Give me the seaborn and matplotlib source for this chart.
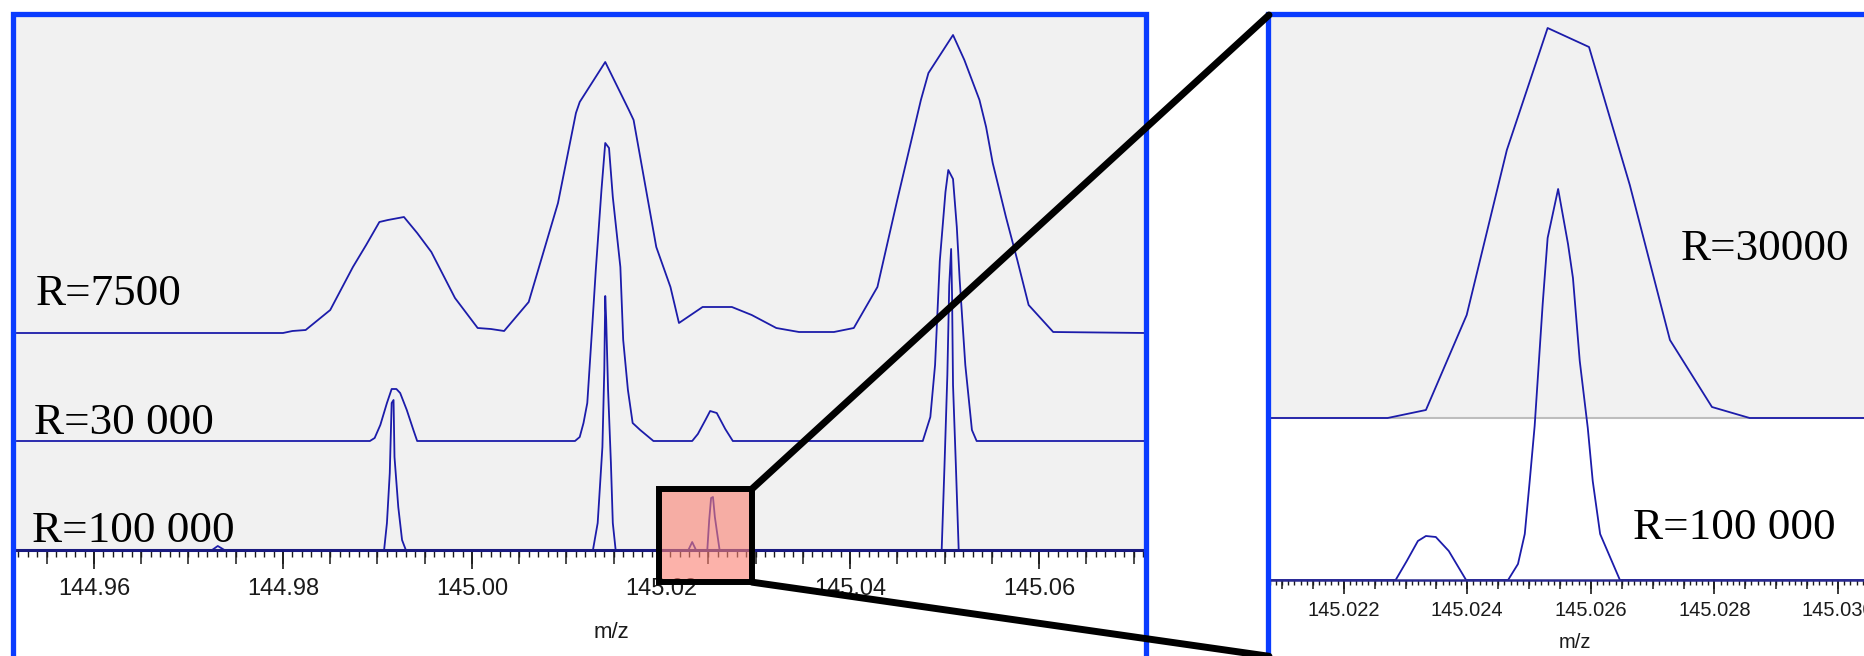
import numpy as np
import matplotlib.pyplot as plt
import matplotlib.ticker as mticker
from matplotlib.patches import Rectangle, ConnectionPatch
from matplotlib.transforms import blended_transform_factory
import seaborn as sns

# profile spectra (m/z, height above own baseline, arbitrary units)
mz_r7500 = [144.9518, 144.9800, 144.9810, 144.9824, 144.9850, 144.9874, 144.9888, 144.9902,
            144.9911, 144.9928, 144.9942, 144.9957, 144.9982, 145.0006, 145.0020, 145.0034,
            145.0060, 145.0091, 145.0110, 145.0114, 145.0141, 145.0166, 145.0171, 145.0195,
            145.0210, 145.0219, 145.0244, 145.0275, 145.0296, 145.0322, 145.0346, 145.0383,
            145.0404, 145.0429, 145.0450, 145.0475, 145.0483, 145.0509, 145.0521, 145.0537,
            145.0544, 145.0551, 145.0565, 145.0577, 145.0589, 145.0615, 145.0713]
int_r7500 = [0, 0, 2, 3, 23, 66, 88, 111, 113, 116, 100, 81, 35, 5, 4, 2,
             31, 130, 220, 231, 271, 223, 213, 86, 46, 10, 26, 26, 18, 5, 1, 1,
             5, 46, 133, 233, 260, 298, 273, 233, 206, 170, 116, 73, 28, 1, 0]

mz_r30k = [144.9518, 144.9892, 144.9897, 144.9903, 144.9910, 144.9915, 144.9920, 144.9924,
           144.9931, 144.9938, 144.9942, 145.0109, 145.0114, 145.0118, 145.0122, 145.0127,
           145.0131, 145.0137, 145.0141, 145.0145, 145.0149, 145.0157, 145.0160, 145.0165,
           145.0170, 145.0178, 145.0192, 145.0233, 145.0239, 145.0247, 145.0252, 145.0259,
           145.0268, 145.0276, 145.0477, 145.0485, 145.0490, 145.0495, 145.0501, 145.0504,
           145.0509, 145.0513, 145.0516, 145.0522, 145.0529, 145.0534, 145.0713]
int_r30k = [0, 0, 3, 16, 38, 52, 52, 48, 31, 11, 0, 0, 4, 18, 38, 111,
            171, 251, 298, 293, 244, 174, 101, 51, 18, 11, 0, 0, 7, 21, 30, 28,
            12, 0, 0, 24, 76, 180, 249, 271, 262, 214, 162, 76, 11, 0, 0]

mz_r100k = [144.9518, 144.9725, 144.9731, 144.9738, 144.9907, 144.9910, 144.9913, 144.9915,
            144.9917, 144.9918, 144.9922, 144.9926, 144.9930, 145.0128, 145.0133, 145.0138,
            145.0140, 145.0141, 145.0142, 145.0144, 145.0147, 145.0149, 145.0152, 145.0229,
            145.0233, 145.0237, 145.0249, 145.0251, 145.0253, 145.0255, 145.0257, 145.0260,
            145.0262, 145.0497, 145.0500, 145.0503, 145.0505, 145.0507, 145.0508, 145.0509,
            145.0512, 145.0515, 145.0713]
int_r100k = [0, 0, 4, 0, 0, 27, 77, 147, 150, 93, 43, 10, 0, 0, 27, 103,
             180, 254, 230, 160, 87, 27, 0, 0, 8, 0, 0, 30, 52, 53, 33, 13,
             0, 0, 85, 175, 265, 301, 254, 165, 85, 0, 0]

# zoomed window around m/z 145.025
mz_zoom_r30k = [145.02079, 145.02271, 145.02333, 145.02399, 145.02464, 145.02530,
                145.02597, 145.02663, 145.02728, 145.02796, 145.02857, 145.03100]
int_zoom_r30k = [0, 0, 8, 103, 268, 390, 371, 233, 78, 11, 0, 0]

mz_zoom_r100k = [145.02079, 145.02284, 145.02302, 145.02320, 145.02333, 145.02349,
                 145.02370, 145.02398, 145.02466, 145.02482, 145.02493, 145.02501,
                 145.02509, 145.02522, 145.02530, 145.02547, 145.02563, 145.02571,
                 145.02582, 145.02595, 145.02603, 145.02615, 145.02647, 145.03100]
int_zoom_r100k = [0, 0, 19, 39, 44, 43, 29, 0, 0, 16, 46, 99,
                  154, 276, 342, 391, 336, 302, 219, 152, 99, 46, 0, 0]

labels_main = ["R=7500", "R=30 000", "R=100 000"]
labels_zoom = ["R=30000", "R=100 000"]

sns.set_style("white")
plt.rcParams["font.family"] = ["Liberation Sans Narrow", "Liberation Sans", "DejaVu Sans"]

W, H = 1865, 656
TRACE = "#1c1caa"
FRAME = "#0a3cff"
BG = "#f1f1f1"
TXT = "#1a1a1a"

fig = plt.figure(figsize=(W / 100, H / 100), dpi=100)
fig.patch.set_facecolor("white")

# ---- main spectrum ----
ax1 = fig.add_axes([16 / W, 1 - 550 / H, 1130 / W, 536 / H])
ax1.set_facecolor(BG)
offsets = [217, 109, 0]
for mz, inten, off in zip([mz_r7500, mz_r30k, mz_r100k], [int_r7500, int_r30k, int_r100k], offsets):
    sns.lineplot(x=mz, y=np.array(inten) + off, ax=ax1, color=TRACE, lw=1.3,
                 estimator=None, sort=False)
ax1.set_xlim(144.95175, 145.07132)
ax1.set_ylim(0, 536)
ax1.set_yticks([])
ax1.set_ylabel("")
for s in ["left", "right", "top"]:
    ax1.spines[s].set_visible(False)
ax1.spines["bottom"].set_color("#1a1a80")
ax1.spines["bottom"].set_linewidth(2.2)
ax1.xaxis.set_major_locator(mticker.MultipleLocator(0.02))
ax1.xaxis.set_minor_locator(mticker.MultipleLocator(0.001))
ax1.xaxis.set_major_formatter(mticker.FormatStrFormatter("%.2f"))
ax1.tick_params(axis="x", which="major", bottom=True, length=13.7, width=1.2, color=TXT,
                pad=6.5, labelsize=17, labelcolor=TXT)
ax1.tick_params(axis="x", which="minor", bottom=True, length=5, width=1.0, color=TXT)
sec1 = ax1.secondary_xaxis("bottom")
sec1.xaxis.set_major_locator(mticker.MultipleLocator(0.005))
sec1.tick_params(length=10, width=1.1, color=TXT, labelbottom=False)
sec1.spines["bottom"].set_visible(False)
ax1.set_xlabel("m/z", fontsize=16, color=TXT)
ax1.xaxis.set_label_coords(0.527, -0.135)
ax1.xaxis.label.set_va("top")

# ---- zoomed spectrum ----
ax2 = fig.add_axes([1269 / W, 1 - 580 / H, 611 / W, 565 / H])
ax2.set_facecolor("white")
zoom_off = [162, 0]
ax2.axhspan(zoom_off[0], 565, color=BG, zorder=0, lw=0)
ax2.axhline(zoom_off[0], color="#bdbdbd", lw=1.5, zorder=1)
for mz, inten, off in zip([mz_zoom_r30k, mz_zoom_r100k], [int_zoom_r30k, int_zoom_r100k], zoom_off):
    sns.lineplot(x=mz, y=np.array(inten) + off, ax=ax2, color=TRACE, lw=1.3,
                 estimator=None, sort=False)
ax2.set_xlim(145.02079, 145.03068)
ax2.set_ylim(0, 565)
ax2.set_yticks([])
ax2.set_ylabel("")
for s in ["left", "right", "top"]:
    ax2.spines[s].set_visible(False)
ax2.spines["bottom"].set_color("#2a2a90")
ax2.spines["bottom"].set_linewidth(1.8)
ax2.xaxis.set_major_locator(mticker.MultipleLocator(0.002))
ax2.xaxis.set_minor_locator(mticker.MultipleLocator(0.0001))
ax2.xaxis.set_major_formatter(mticker.FormatStrFormatter("%.3f"))
ax2.tick_params(axis="x", which="major", bottom=True, length=10, width=1.2, color=TXT,
                pad=5, labelsize=14.5, labelcolor=TXT)
ax2.tick_params(axis="x", which="minor", bottom=True, length=3.6, width=1.0, color=TXT)
sec2 = ax2.secondary_xaxis("bottom")
sec2.xaxis.set_major_locator(mticker.MultipleLocator(0.0005))
sec2.tick_params(length=6.5, width=1.1, color=TXT, labelbottom=False)
sec2.spines["bottom"].set_visible(False)
ax2.set_xlabel("m/z", fontsize=14.5, color=TXT)
ax2.xaxis.set_label_coords(0.5, -0.094)
ax2.xaxis.label.set_va("top")

# ---- resolution labels ----
serif = ["Liberation Serif", "DejaVu Serif"]
for txt, (x, y) in zip(labels_main, [(36, 305), (34, 434), (32, 542)]):
    fig.text(x / W, 1 - y / H, txt, family=serif, fontsize=32.5, color="black", va="baseline")
for txt, (x, y) in zip(labels_zoom, [(1681, 260), (1633, 539)]):
    fig.text(x / W, 1 - y / H, txt, family=serif, fontsize=32.5, color="black", va="baseline")

# ---- window frames ----
fig.add_artist(Rectangle((13.5 / W, -0.1), (1146 - 13.5) / W, 1.1 - 14 / H,
                         transform=fig.transFigure, fill=False, edgecolor=FRAME, lw=3.8, zorder=5))
fig.add_artist(Rectangle((1268 / W, -0.1), 0.5, 1.1 - 14 / H,
                         transform=fig.transFigure, fill=False, edgecolor=FRAME, lw=3.8, zorder=5))

# ---- zoom box and connectors ----
box_mz = (145.01979, 145.02963)
box_y = (-0.06, 0.114)
trans = blended_transform_factory(ax1.transData, ax1.transAxes)
ax1.add_patch(Rectangle((box_mz[0], box_y[0]), box_mz[1] - box_mz[0], box_y[1] - box_y[0],
                        transform=trans, facecolor="salmon", alpha=0.6, edgecolor="none",
                        clip_on=False, zorder=10))
ax1.add_patch(Rectangle((box_mz[0], box_y[0]), box_mz[1] - box_mz[0], box_y[1] - box_y[0],
                        transform=trans, fill=False, edgecolor="black", lw=4.3,
                        clip_on=False, zorder=11))
for ya, yb in [(box_y[1], 1.0), (box_y[0], -0.135)]:
    con = ConnectionPatch(xyA=(box_mz[1], ya), coordsA=trans, axesA=ax1,
                          xyB=(0, yb), coordsB="axes fraction", axesB=ax2,
                          color="black", lw=5, zorder=12)
    fig.add_artist(con)

fig.savefig("out.png", dpi=100)
